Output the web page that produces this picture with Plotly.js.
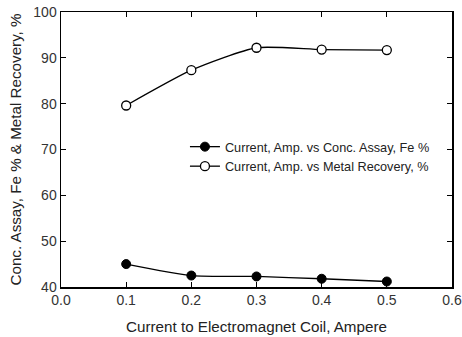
<!DOCTYPE html>
<html><head><meta charset="utf-8">
<script src="https://cdn.plot.ly/plotly-3.0.1.min.js"></script>
<style>html,body{margin:0;padding:0;background:#fff}</style>
</head><body><div id="c" style="width:462px;height:337px"></div>
<script>
const current = [0.1, 0.2, 0.3, 0.4, 0.5];
const assay = [45.0, 42.5, 42.3, 41.8, 41.2];
const recovery = [79.6, 87.3, 92.2, 91.8, 91.7];
const xTicks = [0, 0.1, 0.2, 0.3, 0.4, 0.5, 0.6];
const yTicks = [40, 50, 60, 70, 80, 90, 100];

const traces = [
  {x: current, y: assay, mode: 'lines+markers', name: 'Current, Amp. vs Conc. Assay, Fe %',
   line: {color: '#000', width: 1.3, shape: 'spline', smoothing: 0.6},
   marker: {symbol: 'circle', size: 9, color: '#000', line: {color: '#000', width: 1}}},
  {x: current, y: recovery, mode: 'lines+markers', name: 'Current, Amp. vs Metal Recovery, %',
   line: {color: '#000', width: 1.3, shape: 'spline', smoothing: 0.6},
   marker: {symbol: 'circle', size: 9, color: '#fff', line: {color: '#000', width: 1.3}}}
];
const axisCommon = {showgrid: false, zeroline: false, showline: true, linecolor: '#000', linewidth: 1.5,
  mirror: 'ticks', ticks: 'inside', ticklen: 5, tickcolor: '#000', tickwidth: 1,
  tickfont: {family: 'Liberation Sans, Arial', size: 14, color: '#333'}};
const layout = {
  width: 462, height: 337,
  margin: {l: 61, r: 10, t: 12, b: 50},
  paper_bgcolor: '#fff', plot_bgcolor: '#fff',
  font: {family: 'Liberation Sans, Arial', color: '#222'},
  xaxis: Object.assign({}, axisCommon, {range: [0, 0.6], tickvals: xTicks, ticktext: xTicks.map(v => v.toFixed(1)),
    title: {text: 'Current to Electromagnet Coil, Ampere', font: {size: 15.2, color: '#222'}, standoff: 14}}),
  yaxis: Object.assign({}, axisCommon, {range: [40, 100], tickvals: yTicks,
    title: {text: 'Conc. Assay, Fe % & Metal Recovery, %', font: {size: 15.2, color: '#222'}, standoff: 8}}),
  showlegend: true,
  legend: {x: 0.317, y: 0.564, xanchor: 'left', yanchor: 'top', bgcolor: 'rgba(0,0,0,0)',
    font: {family: 'Liberation Sans, Arial', size: 12.7, color: '#222'}, tracegroupgap: 0, itemwidth: 30}
};
Plotly.newPlot('c', traces, layout, {displayModeBar: false, staticPlot: true});
</script></body></html>
